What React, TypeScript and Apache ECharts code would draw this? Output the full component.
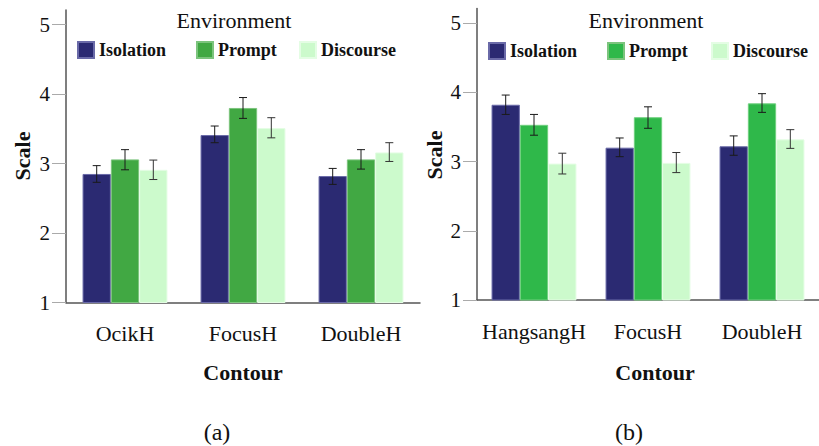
import React, { useEffect, useRef } from "react";
import * as echarts from "echarts";

const categoriesA = ["OcikH", "FocusH", "DoubleH"];
const categoriesB = ["HangsangH", "FocusH", "DoubleH"];
const seriesNames = ["Isolation", "Prompt", "Discourse"];
const yTicks = [1, 2, 3, 4, 5];

// Panel (a)
const isolationA = [2.85, 3.41, 2.82];
const promptA = [3.06, 3.8, 3.06];
const discourseA = [2.91, 3.51, 3.16];
const isolationALow = [2.73, 3.3, 2.7];
const isolationAHigh = [2.97, 3.54, 2.93];
const promptALow = [2.91, 3.65, 2.92];
const promptAHigh = [3.2, 3.95, 3.2];
const discourseALow = [2.77, 3.37, 3.03];
const discourseAHigh = [3.05, 3.66, 3.3];

// Panel (b)
const isolationB = [3.82, 3.2, 3.22];
const promptB = [3.53, 3.64, 3.84];
const discourseB = [2.97, 2.98, 3.32];
const isolationBLow = [3.68, 3.07, 3.09];
const isolationBHigh = [3.96, 3.34, 3.37];
const promptBLow = [3.38, 3.48, 3.71];
const promptBHigh = [3.68, 3.79, 3.98];
const discourseBLow = [2.82, 2.84, 3.19];
const discourseBHigh = [3.12, 3.13, 3.46];

const COL_ISO = "#2b2a72";
const COL_PROMPT_A = "#41a843";
const COL_PROMPT_B = "#2fb84a";
const COL_DISC = "#ccfacc";
const BORDER_ISO = "#6a6aa8";
const BORDER_PROMPT_A = "#7cc47d";
const BORDER_PROMPT_B = "#70d07f";
const BORDER_DISC = "#e4fde4";

const BAR_W = 28.3;
const SERIF = "'Liberation Serif', 'Times New Roman', serif";

export default function App() {
  const ref = useRef<HTMLDivElement | null>(null);

  useEffect(() => {
    if (!ref.current) return;
    const chart = echarts.init(ref.current, null, { renderer: "svg" });

    const errData = (lows: number[][], highs: number[][]): number[][] => {
      const out: number[][] = [];
      for (let k = 0; k < lows.length; k++) {
        for (let i = 0; i < lows[k].length; i++) {
          out.push([i, lows[k][i], highs[k][i], k]);
        }
      }
      return out;
    };

    const renderErr = (params: any, api: any) => {
      const cat = api.value(0);
      const lo = api.value(1);
      const hi = api.value(2);
      const k = api.value(3);
      const pLo = api.coord([cat, lo]);
      const pHi = api.coord([cat, hi]);
      const x = pLo[0] + (k - 1) * BAR_W;
      const stroke = k === 2 ? "#333" : "#1a1a1a";
      return {
        type: "group",
        children: [
          { type: "line", shape: { x1: x, y1: pLo[1], x2: x, y2: pHi[1] }, style: { stroke, lineWidth: 1 } },
          { type: "line", shape: { x1: x - 4, y1: pLo[1], x2: x + 4, y2: pLo[1] }, style: { stroke, lineWidth: 1 } },
          { type: "line", shape: { x1: x - 4, y1: pHi[1], x2: x + 4, y2: pHi[1] }, style: { stroke, lineWidth: 1 } },
        ],
      };
    };

    const xAxisCommon = {
      type: "category",
      axisLine: { lineStyle: { color: "#555", width: 1.5 } },
      axisTick: { alignWithLabel: true, length: 16, lineStyle: { color: "#aaa" } },
      axisLabel: { interval: 0, fontFamily: SERIF, fontSize: 22, color: "#111", margin: 20 },
    };
    const yAxisCommon = {
      type: "value",
      min: 1,
      max: 5.21,
      interval: 1,
      splitLine: { show: false },
      axisLine: { show: true, lineStyle: { color: "#555", width: 1.5 } },
      axisTick: { show: true, length: 14, lineStyle: { color: "#aaa" }, customValues: yTicks },
      axisLabel: { fontFamily: SERIF, fontSize: 21, color: "#111", margin: 16, customValues: yTicks },
    };

    const legendItem = (name: string, color: string, left: number, top: number) => ({
      data: [{ name, itemStyle: { color } }],
      left,
      top,
      padding: 0,
      icon: "rect",
      itemWidth: 16,
      itemHeight: 16,
      selectedMode: false,
      textStyle: { fontFamily: SERIF, fontWeight: "bold", fontSize: 18, color: "#111" },
    });

    const bar = (name: string, data: number[], color: string, border: string, idx: number) => ({
      name,
      type: "bar",
      xAxisIndex: idx,
      yAxisIndex: idx,
      data,
      barWidth: BAR_W,
      barGap: "0%",
      itemStyle: { color, borderColor: border, borderWidth: 1 },
    });

    const textEl = (text: string, x: number, y: number, size: number, bold: boolean, rotation = 0) => ({
      type: "text",
      x,
      y,
      rotation,
      style: {
        text,
        fontFamily: SERIF,
        fontSize: size,
        fontWeight: bold ? "bold" : "normal",
        fill: "#111",
        align: "center",
        verticalAlign: "middle",
      },
    });

    chart.setOption({
      animation: false,
      backgroundColor: "#fff",
      grid: [
        { left: 66, top: 10, width: 354, height: 292.5 },
        { left: 477, top: 8.5, width: 354, height: 291.5 },
      ],
      xAxis: [
        { ...xAxisCommon, gridIndex: 0, data: categoriesA },
        { ...xAxisCommon, gridIndex: 1, data: categoriesB },
      ],
      yAxis: [
        { ...yAxisCommon, gridIndex: 0 },
        { ...yAxisCommon, gridIndex: 1 },
      ],
      legend: [
        legendItem(seriesNames[0], COL_ISO, 77, 41),
        legendItem(seriesNames[1], COL_PROMPT_A, 196, 41),
        legendItem(seriesNames[2], COL_DISC, 299, 41),
        legendItem(seriesNames[0], COL_ISO, 488, 42),
        legendItem(seriesNames[1], COL_PROMPT_B, 607, 42),
        legendItem(seriesNames[2], COL_DISC, 711, 42),
      ],
      graphic: [
        textEl("Environment", 234, 20, 22, false),
        textEl("Environment", 646, 20, 22, false),
        textEl("Scale", 22, 156, 22, true, Math.PI / 2),
        textEl("Scale", 434, 155, 22, true, Math.PI / 2),
        textEl("Contour", 243, 372, 22, true),
        textEl("Contour", 655, 372, 22, true),
        textEl("(a)", 217, 432, 24, false),
        textEl("(b)", 629, 432, 24, false),
      ],
      series: [
        bar(seriesNames[0], isolationA, COL_ISO, BORDER_ISO, 0),
        bar(seriesNames[1], promptA, COL_PROMPT_A, BORDER_PROMPT_A, 0),
        bar(seriesNames[2], discourseA, COL_DISC, BORDER_DISC, 0),
        bar(seriesNames[0], isolationB, COL_ISO, BORDER_ISO, 1),
        bar(seriesNames[1], promptB, COL_PROMPT_B, BORDER_PROMPT_B, 1),
        bar(seriesNames[2], discourseB, COL_DISC, BORDER_DISC, 1),
        {
          name: "errA",
          type: "custom",
          xAxisIndex: 0,
          yAxisIndex: 0,
          renderItem: renderErr,
          encode: { x: 0, y: [1, 2] },
          data: errData(
            [isolationALow, promptALow, discourseALow],
            [isolationAHigh, promptAHigh, discourseAHigh]
          ),
          z: 5,
        },
        {
          name: "errB",
          type: "custom",
          xAxisIndex: 1,
          yAxisIndex: 1,
          renderItem: renderErr,
          encode: { x: 0, y: [1, 2] },
          data: errData(
            [isolationBLow, promptBLow, discourseBLow],
            [isolationBHigh, promptBHigh, discourseBHigh]
          ),
          z: 5,
        },
      ],
    });

    return () => chart.dispose();
  }, []);

  return (
    <div
      ref={ref}
      style={{ position: "fixed", left: 0, top: 0, width: 819, height: 446, background: "#fff" }}
    />
  );
}
